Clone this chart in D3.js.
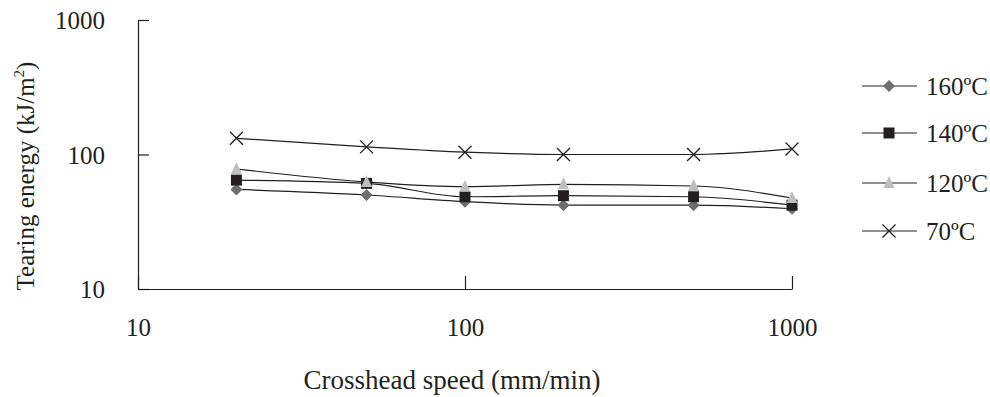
<!DOCTYPE html>
<html>
<head>
<meta charset="utf-8">
<script src="https://cdn.jsdelivr.net/npm/d3@7"></script>
<style>
  body { margin: 0; background: #fff; }
  svg text { font-family: "Liberation Serif", "Times New Roman", serif; fill: #231f20; }
</style>
</head>
<body>
<script>
// crosshead speeds (mm/min) and tearing energy per temperature (kJ/m2)
var speeds = [20, 50, 100, 200, 500, 1000];
var series160 = [55, 50, 44.6, 42, 42, 39.5];
var series140 = [64.5, 61, 48.5, 49.4, 48.5, 42];
var series120 = [78, 62.5, 57.6, 60, 58.3, 47.5];
var series70 = [132, 114, 104, 100, 100, 110];
var seriesNames = ["160ºC", "140ºC", "120ºC", "70ºC"];
var xTicks = [10, 100, 1000];
var yTicks = [10, 100, 1000];

var w = 990, h = 397;
var fs = "25px";

var svg = d3.select("body").append("svg")
  .attr("width", w)
  .attr("height", h);

// log scales for both axes
var x = d3.scaleLog().domain([10, 1000]).range([138, 792]);
var y = d3.scaleLog().domain([10, 1000]).range([289, 20]);

var xAxis = svg.append("g")
  .attr("transform", "translate(0," + y(10) + ")")
  .call(d3.axisBottom(x).tickValues(xTicks).tickFormat(d3.format("d"))
    .tickSizeInner(-13).tickSizeOuter(0).tickPadding(29));

var yAxis = svg.append("g")
  .attr("transform", "translate(" + x(10) + ",0)")
  .call(d3.axisLeft(y).tickValues(yTicks).tickFormat(d3.format("d"))
    .tickSizeInner(-11).tickSizeOuter(0).tickPadding(33));

svg.selectAll(".domain, .tick line").attr("stroke", "#231f20").attr("stroke-width", 1.2);
svg.selectAll(".tick text").style("font-size", fs).attr("fill", "#231f20");
yAxis.selectAll(".tick text").attr("dy", "0.35em");

// axis titles
svg.append("text")
  .attr("transform", "translate(34,176) rotate(-90)")
  .attr("text-anchor", "middle")
  .style("font-size", fs)
  .html('Tearing energy (kJ/m<tspan dy="-10" font-size="15px">2</tspan><tspan dy="10">)</tspan>');

svg.append("text")
  .attr("x", 452)
  .attr("y", 389)
  .attr("text-anchor", "middle")
  .style("font-size", "27px")
  .text("Crosshead speed (mm/min)");

// marker shapes
function drawMarker(g, kind) {
  if (kind == 0) {
    g.append("path").attr("d", "M0,-6L6,0L0,6L-6,0Z").attr("fill", "#6d6e70");
  } else if (kind == 1) {
    g.append("rect").attr("x", -5.5).attr("y", -5.5).attr("width", 11).attr("height", 11).attr("fill", "#231f20");
  } else if (kind == 2) {
    g.append("path").attr("d", "M0,-7L5.5,5L-5.5,5Z").attr("fill", "#bcbec0");
  } else {
    g.append("path").attr("d", "M-6.5,-6.5L6.5,6.5M-6.5,6.5L6.5,-6.5")
      .attr("stroke", "#231f20").attr("stroke-width", 1.3).attr("fill", "none");
  }
}

var allSeries = [series160, series140, series120, series70];

var line = d3.line()
  .x(function(d) { return x(d.s); })
  .y(function(d) { return y(d.v); })
  .curve(d3.curveMonotoneX);

allSeries.forEach(function(vals, k) {
  var pts = speeds.map(function(s, i) { return {s: s, v: vals[i]}; });
  svg.append("path")
    .datum(pts)
    .attr("d", line)
    .attr("fill", "none")
    .attr("stroke", "#231f20")
    .attr("stroke-width", 1.2);
  pts.forEach(function(p) {
    var g = svg.append("g").attr("transform", "translate(" + x(p.s) + "," + y(p.v) + ")");
    drawMarker(g, k);
  });
});

// legend
var legendY = [86, 133, 183, 231];
seriesNames.forEach(function(name, k) {
  var lg = svg.append("g").attr("transform", "translate(862," + legendY[k] + ")");
  lg.append("line").attr("x1", 0).attr("x2", 55).attr("y1", 0).attr("y2", 0)
    .attr("stroke", "#231f20").attr("stroke-width", 1.2);
  drawMarker(lg.append("g").attr("transform", "translate(27,0)"), k);
  lg.append("text").attr("x", 64).attr("y", 0).attr("dy", "0.35em")
    .style("font-size", fs).text(name);
});
</script>
</body>
</html>
